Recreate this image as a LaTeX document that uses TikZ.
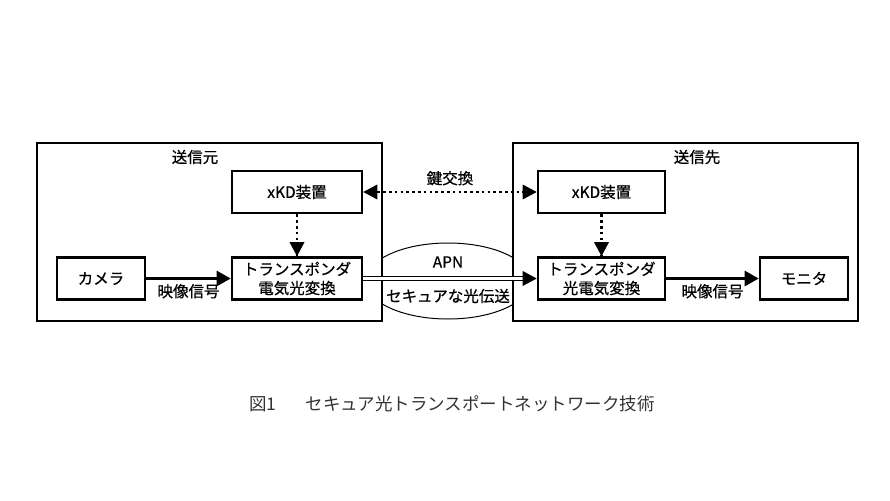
\documentclass[tikz,border=0pt]{standalone}
\usepackage{fontspec}
\setmainfont{Noto Sans CJK JP}
\newfontfamily\boxfont{Noto Sans CJK JP}[FakeBold=0.6]
\usetikzlibrary{arrows.meta,shapes.geometric}

\begin{document}
\begin{tikzpicture}[x=1pt, y=-1pt,
    outer/.style={draw, line width=1.1pt, fill=white, minimum width=345pt, minimum height=178pt, inner sep=0pt},
    block/.style={draw, line width=2.6pt, fill=white, minimum height=42pt, align=center, inner sep=0pt, font=\boxfont\fontsize{15.5}{19}\selectfont},
    lbl/.style={font=\boxfont\fontsize{15.5}{19}\selectfont},
    sig/.style={line width=2.6pt, -{Triangle[length=14pt,width=15pt]}},
    keyx/.style={line width=2.6pt, dash pattern=on 2.6pt off 3.2pt}]
    \useasboundingbox (0,0) rectangle (890,500);

    % optical network
    \node[draw, ellipse, line width=1pt, minimum width=165pt, minimum height=76pt] (apn) at (448, 281) {};

    % sites
    \node[outer] (src) at (209.5, 232) {};
    \node[outer] (dst) at (685.5, 232) {};
    \node[lbl] (srct) at (195, 157) {送信元};
    \node[lbl] (dstt) at (697, 157) {送信先};

    \node[block, minimum width=130pt] (xkd1) at (297, 192) {xKD装置};
    \node[block, minimum width=130pt] (tp1) at (297, 278.5) {トランスポンダ\\電気光変換};
    \node[block, minimum width=88pt] (cam) at (101, 278.5) {カメラ};

    \node[block, minimum width=127pt] (xkd2) at (601.5, 192) {xKD装置};
    \node[block, minimum width=127pt] (tp2) at (601.5, 278.5) {トランスポンダ\\光電気変換};
    \node[block, minimum width=88pt] (mon) at (804, 278.5) {モニタ};

    \draw[sig] (cam) -- (tp1) node[lbl, midway, below=1pt] {映像信号};
    \draw[sig] (tp2) -- (mon) node[lbl, midway, below=1pt] {映像信号};

    \draw[keyx] (xkd1) -- (tp1);
    \draw[keyx] (xkd2) -- (tp2);
    \fill (tp1.north) -- ++(-7.5,-14) -- ++(15,0) -- cycle;
    \fill (tp2.north) -- ++(-7.5,-14) -- ++(15,0) -- cycle;

    \draw[keyx] ([xshift=14pt]xkd1.east) -- ([xshift=-14pt]xkd2.west)
        node[lbl, midway, above=2pt] {鍵交換};
    \fill (xkd1.east) -- ++(14,-7.5) -- ++(0,15) -- cycle;
    \fill (xkd2.west) -- ++(-14,-7.5) -- ++(0,15) -- cycle;

    \draw[double, line width=0.8pt, double distance=2.6pt] (tp1.east) -- ([xshift=-14pt]tp2.west);
    \fill (tp2.west) -- ++(-14,-7.5) -- ++(0,15) -- cycle;
    \node[lbl] (apnt) at (448, 262) {APN};
    \node[lbl] (sect) at (448, 296) {セキュアな光伝送};

    % caption
    \node[font=\fontsize{17.5}{20}\selectfont, text=black!80] (cap) at (452, 404) {図1\quad\ \ \ セキュア光トランスポートネットワーク技術};
\end{tikzpicture}
\end{document}
